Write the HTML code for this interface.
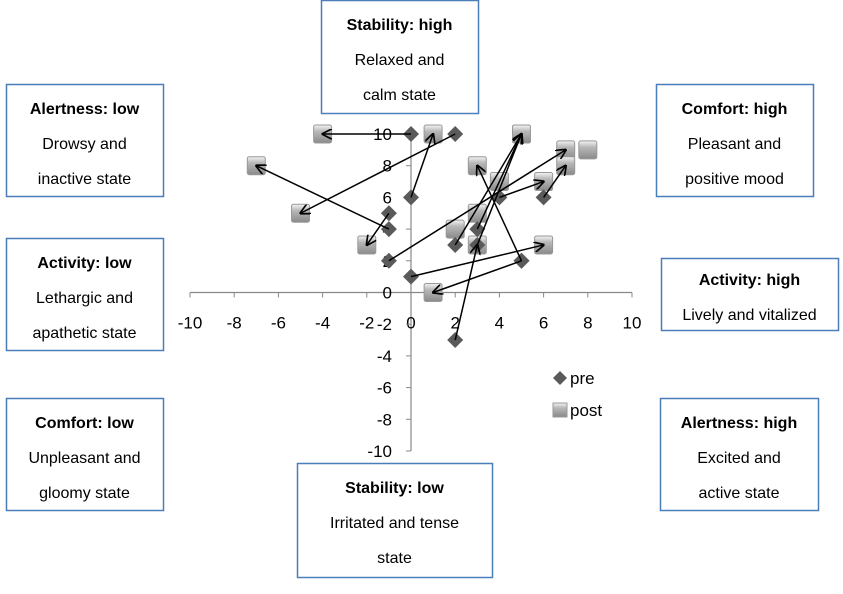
<!DOCTYPE html>
<html><head><meta charset="utf-8"><style>
body{margin:0;background:#fff;}
svg text{font-family:"Liberation Sans",Calibri,sans-serif;}
</style></head><body>
<svg width="843" height="589" viewBox="0 0 843 589">
<defs>
<marker id="ah" viewBox="0 0 10 10" refX="9" refY="5" markerWidth="7" markerHeight="7" orient="auto-start-reverse"><path d="M0,0 L10,5 L0,10" fill="none" stroke="#000" stroke-width="1.6"/></marker>
<linearGradient id="sq" x1="0" y1="0" x2="0" y2="1"><stop offset="0" stop-color="#f4f4f4"/><stop offset="0.35" stop-color="#b8b8b8"/><stop offset="1" stop-color="#8a8a8a"/></linearGradient>
</defs>
<g id="boxes"></g>
<g id="axes"></g>
<g id="marks"></g>
<g id="legend">
<path d="M560,371 L567,378 L560,385 L553,378Z" fill="#5a5a5a"/>
<text x="570" y="384" font-size="17">pre</text>
<rect x="553" y="403" width="14" height="14" fill="url(#sq)" stroke="#999"/>
<text x="570" y="416" font-size="17">post</text>
</g>
</svg>
<script>
const xTicks=[-10,-8,-6,-4,-2,0,2,4,6,8,10];
const yTicks=[-10,-8,-6,-4,-2,0,2,4,6,8,10];
const preX=[0,2,0,-1,-1,0,5,5,-1,2,6,2,3,3,4];
const preY=[10,10,6,4,5,1,2,2,2,-3,6,3,4,3,6];
const postX=[-4,-5,1,-7,-2,6,1,3,7,3,7,5,5,5,6];
const postY=[10,5,10,8,3,3,0,8,9,3,8,10,10,10,7];
const extraPostX=[8,3,2,4];
const extraPostY=[9,5,4,7];
const sx=v=>411+v*22.1, sy=v=>292.5-v*15.85;
const NS="http://www.w3.org/2000/svg";
function mk(tag,attrs,parent,txt){const e=document.createElementNS(NS,tag);for(const k in attrs)e.setAttribute(k,attrs[k]);if(txt!==undefined)e.textContent=txt;parent.appendChild(e);return e;}
const axes=document.getElementById('axes'),marks=document.getElementById('marks'),boxes=document.getElementById('boxes');
let a=mk('line',{x1:sx(-10),y1:sy(0),x2:sx(10),y2:sy(0),stroke:'#888','stroke-width':1.2},axes);


a=mk('line',{x1:sx(0),y1:sy(-10),x2:sx(0),y2:sy(10),stroke:'#888','stroke-width':1.2},axes);


xTicks.forEach(t=>{
 const l=mk('line',{x1:sx(t),y1:sy(0),x2:sx(t),y2:sy(0)+5,stroke:'#888'},axes);
 
 
 const tx=mk('text',{x:sx(t),y:sy(0)+36,'font-size':17,'text-anchor':'middle'},axes,String(t));
 
 
});
yTicks.forEach(t=>{
 const l=mk('line',{x1:sx(0)-5,y1:sy(t),x2:sx(0),y2:sy(t),stroke:'#888'},axes);
 
 
 const tx=mk('text',{x:sx(0)-19,y:sy(t)+6,'font-size':17,'text-anchor':'end'},axes,String(t));
 
 
});
function drawPost(x,y){const r=mk('rect',{x:sx(x)-9,y:sy(y)-9,width:18,height:18,rx:2,fill:'url(#sq)',stroke:'#999'},marks);
 
 }
function drawPre(x,y){const X=sx(x),Y=sy(y);const p=mk('path',{d:`M${X},${Y-8}L${X+8},${Y}L${X},${Y+8}L${X-8},${Y}Z`,fill:'#5a5a5a'},marks);
 
 }
postX.forEach((x,i)=>drawPost(x,postY[i]));
extraPostX.forEach((x,i)=>drawPost(x,extraPostY[i]));
preX.forEach((x,i)=>drawPre(x,preY[i]));
preX.forEach((x,i)=>{
 const l=mk('line',{x1:sx(x),y1:sy(preY[i]),x2:sx(postX[i]),y2:sy(postY[i]),stroke:'#000','stroke-width':1.5,'marker-end':'url(#ah)'},marks);
 
 
});
const bx=[[321,0,157,113,'Stability: high','Relaxed and','calm state'],
[6,84,157,112,'Alertness: low','Drowsy and','inactive state'],
[656,84,157,112,'Comfort: high','Pleasant and','positive mood'],
[6,238,157,112,'Activity: low','Lethargic and','apathetic state'],
[661,258,177,72,'Activity: high','Lively and vitalized',''],
[6,398,157,112,'Comfort: low','Unpleasant and','gloomy state'],
[660,398,158,112,'Alertness: high','Excited and','active state'],
[297,463,195,114,'Stability: low','Irritated and tense','state']];
bx.forEach(b=>{
 const g=mk('g',{},boxes);
 
 
 mk('rect',{x:b[0]+0.5,y:b[1]+0.5,width:b[2],height:b[3],fill:'#fff',stroke:'#4a7ebb','stroke-width':1.5},g);
 const cx=b[0]+b[2]/2;
 const y0=b[3]>100?b[1]+30:b[1]+27;
 mk('text',{x:cx,y:y0,'font-size':16,'font-weight':'bold','text-anchor':'middle'},g,b[4]);
 mk('text',{x:cx,y:y0+35,'font-size':16,'text-anchor':'middle'},g,b[5]);
 if(b[6])mk('text',{x:cx,y:y0+70,'font-size':16,'text-anchor':'middle'},g,b[6]);
});
</script>
</body></html>
